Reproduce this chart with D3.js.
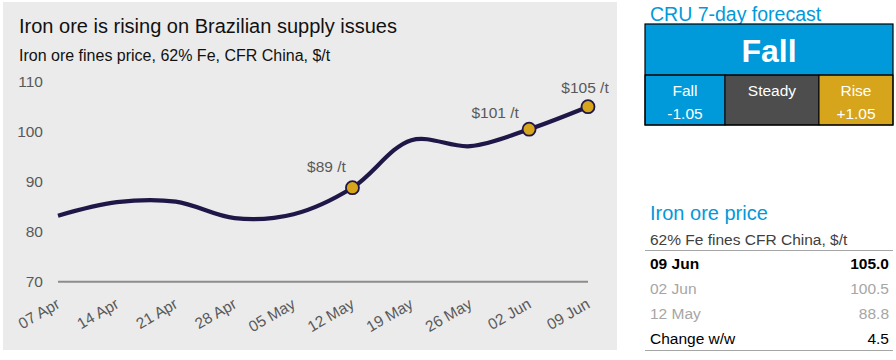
<!DOCTYPE html>
<html>
<head>
<meta charset="utf-8">
<script src="https://cdn.jsdelivr.net/npm/d3@7"></script>
<style>
  html, body { margin: 0; padding: 0; background: #ffffff; }
  svg { display: block; font-family: "Liberation Sans", Arial, sans-serif; }
</style>
</head>
<body>
<svg id="chart" width="896" height="360"></svg>
<script>
// ---------- data ----------
const categories = ["07 Apr", "14 Apr", "21 Apr", "28 Apr", "05 May", "12 May", "19 May", "26 May", "02 Jun", "09 Jun"];
const prices = [83.2, 85.9, 86.0, 82.7, 83.5, 88.8, 98.3, 97.1, 100.5, 105.0];
const yTicks = [70, 80, 90, 100, 110];
const markedDates = ["12 May", "02 Jun", "09 Jun"];
const markedLabels = ["$89 /t", "$101 /t", "$105 /t"];

const chartTitle = "Iron ore is rising on Brazilian supply issues";
const chartSubtitle = "Iron ore fines price, 62% Fe, CFR China, $/t";

const forecastTitle = "CRU 7-day forecast";
const forecastCall = "Fall";
const forecastOptions = ["Fall", "Steady", "Rise"];
const forecastValues = ["-1.05", "", "+1.05"];

const tableTitle = "Iron ore price";
const tableSubtitle = "62% Fe fines CFR China, $/t";
const tableLabels = ["09 Jun", "02 Jun", "12 May", "Change w/w"];
const tableValues = ["105.0", "100.5", "88.8", "4.5"];

// ---------- styles / layout ----------
const BLUE = "#009ADA", GOLD = "#D6A51C", DARK = "#4D4D4D", NAVY = "#1F1747";
const svg = d3.select("#chart");

// panel background
svg.append("rect").attr("x", 3).attr("y", 2).attr("width", 614).attr("height", 348).attr("fill", "#EBEBEB");

svg.append("text").attr("x", 19).attr("y", 33).attr("font-size", 20).attr("fill", "#111")
  .text(chartTitle);
svg.append("text").attr("x", 19).attr("y", 60.5).attr("font-size", 16).attr("fill", "#111")
  .text(chartSubtitle);

const x = d3.scalePoint().domain(categories).range([58, 588]);
const y = d3.scaleLinear().domain([70, 110]).range([281.7, 81.7]);

// y tick labels
const yAxis = d3.axisLeft(y).tickValues(yTicks).tickSize(0).tickPadding(0).tickFormat(d3.format("d"));
const gy = svg.append("g").attr("transform", "translate(43,0)").call(yAxis);
gy.select(".domain").remove();
gy.selectAll("text").attr("font-size", 15.5).attr("fill", "#595959")
  .attr("font-family", "Liberation Sans, Arial, sans-serif");

// x axis baseline
svg.append("line").attr("x1", x(categories[0])).attr("x2", x(categories[categories.length - 1]))
  .attr("y1", y(70)).attr("y2", y(70)).attr("stroke", "#8C8C8C").attr("stroke-width", 2);

// x tick labels
const xAxis = d3.axisBottom(x).tickSize(0).tickPadding(0);
const gx = svg.append("g").call(xAxis);
gx.select(".domain").remove();
gx.selectAll(".tick").attr("transform", d => `translate(${x(d) + 3},307)`);
gx.selectAll(".tick text")
  .attr("font-size", 15.5).attr("fill", "#595959")
  .attr("font-family", "Liberation Sans, Arial, sans-serif")
  .attr("text-anchor", "end").attr("dy", 0).attr("y", 0)
  .attr("transform", "rotate(-30)");

// line
const line = d3.line()
  .x((d, i) => x(categories[i]))
  .y(d => y(d))
  .curve(d3.curveCatmullRom.alpha(0.5));
svg.append("path").datum(prices).attr("d", line)
  .attr("fill", "none").attr("stroke", NAVY).attr("stroke-width", 4.2)
  .attr("stroke-linecap", "butt");

// markers
const labelOffsets = [[-26, -16], [-34, -11.5], [-3, -14]];
markedDates.forEach((c, k) => {
  const i = categories.indexOf(c);
  const cx = x(c), cy = y(prices[i]);
  svg.append("circle").attr("cx", cx).attr("cy", cy).attr("r", 6.5)
    .attr("fill", GOLD).attr("stroke", NAVY).attr("stroke-width", 1.8);
  svg.append("text").attr("x", cx + labelOffsets[k][0]).attr("y", cy + labelOffsets[k][1])
    .attr("text-anchor", "middle").attr("font-size", 15.5).attr("fill", "#595959")
    .text(markedLabels[k]);
});

// ---------- forecast box ----------
svg.append("text").attr("x", 650).attr("y", 21).attr("font-size", 19.5).attr("fill", BLUE).text(forecastTitle);
const bx0 = 645, bx1 = 893, by0 = 24, byMid = 75, by1 = 125;
svg.append("rect").attr("x", bx0).attr("y", by0).attr("width", bx1 - bx0).attr("height", byMid - by0)
  .attr("fill", BLUE);
svg.append("text").attr("x", (bx0 + bx1) / 2).attr("y", 62).attr("text-anchor", "middle")
  .attr("font-size", 32).attr("font-weight", "bold").attr("fill", "#fff").text(forecastCall);
const cellEdges = [645, 725, 819, 893];
const cellFills = [BLUE, DARK, GOLD];
forecastOptions.forEach((o, i) => {
  const cx0 = cellEdges[i], cx1 = cellEdges[i + 1];
  svg.append("rect").attr("x", cx0).attr("y", byMid).attr("width", cx1 - cx0).attr("height", by1 - byMid)
    .attr("fill", cellFills[i]).attr("stroke", "#000").attr("stroke-width", 1);
  svg.append("text").attr("x", (cx0 + cx1) / 2).attr("y", 96).attr("text-anchor", "middle")
    .attr("font-size", 15.5).attr("fill", "#fff").text(o);
  if (forecastValues[i]) {
    svg.append("text").attr("x", (cx0 + cx1) / 2).attr("y", 118.5).attr("text-anchor", "middle")
      .attr("font-size", 15.5).attr("fill", "#fff").text(forecastValues[i]);
  }
});
svg.append("rect").attr("x", bx0).attr("y", by0).attr("width", bx1 - bx0).attr("height", by1 - by0)
  .attr("fill", "none").attr("stroke", "#000").attr("stroke-width", 1.2);
svg.append("line").attr("x1", bx0).attr("x2", bx1).attr("y1", byMid).attr("y2", byMid)
  .attr("stroke", "#000").attr("stroke-width", 1);

// ---------- price table ----------
svg.append("text").attr("x", 650).attr("y", 220).attr("font-size", 20).attr("fill", BLUE).text(tableTitle);
svg.append("text").attr("x", 650).attr("y", 245).attr("font-size", 15.5).attr("fill", "#404040").text(tableSubtitle);
svg.append("line").attr("x1", 645).attr("x2", 893).attr("y1", 250.5).attr("y2", 250.5)
  .attr("stroke", "#A6A6A6").attr("stroke-width", 1.2);
svg.append("line").attr("x1", 645).attr("x2", 893).attr("y1", 350.5).attr("y2", 350.5)
  .attr("stroke", "#A6A6A6").attr("stroke-width", 1.2);
const rowColors = ["#000", "#A6A6A6", "#A6A6A6", "#000"];
const rowWeights = ["bold", "normal", "normal", "normal"];
tableLabels.forEach((lab, i) => {
  const yy = 268.5 + i * 25;
  svg.append("text").attr("x", 650).attr("y", yy).attr("font-size", 15.5)
    .attr("font-weight", rowWeights[i]).attr("fill", rowColors[i]).text(lab);
  svg.append("text").attr("x", 889).attr("y", yy).attr("font-size", 15.5).attr("text-anchor", "end")
    .attr("font-weight", rowWeights[i]).attr("fill", rowColors[i]).text(tableValues[i]);
});
</script>
</body>
</html>
